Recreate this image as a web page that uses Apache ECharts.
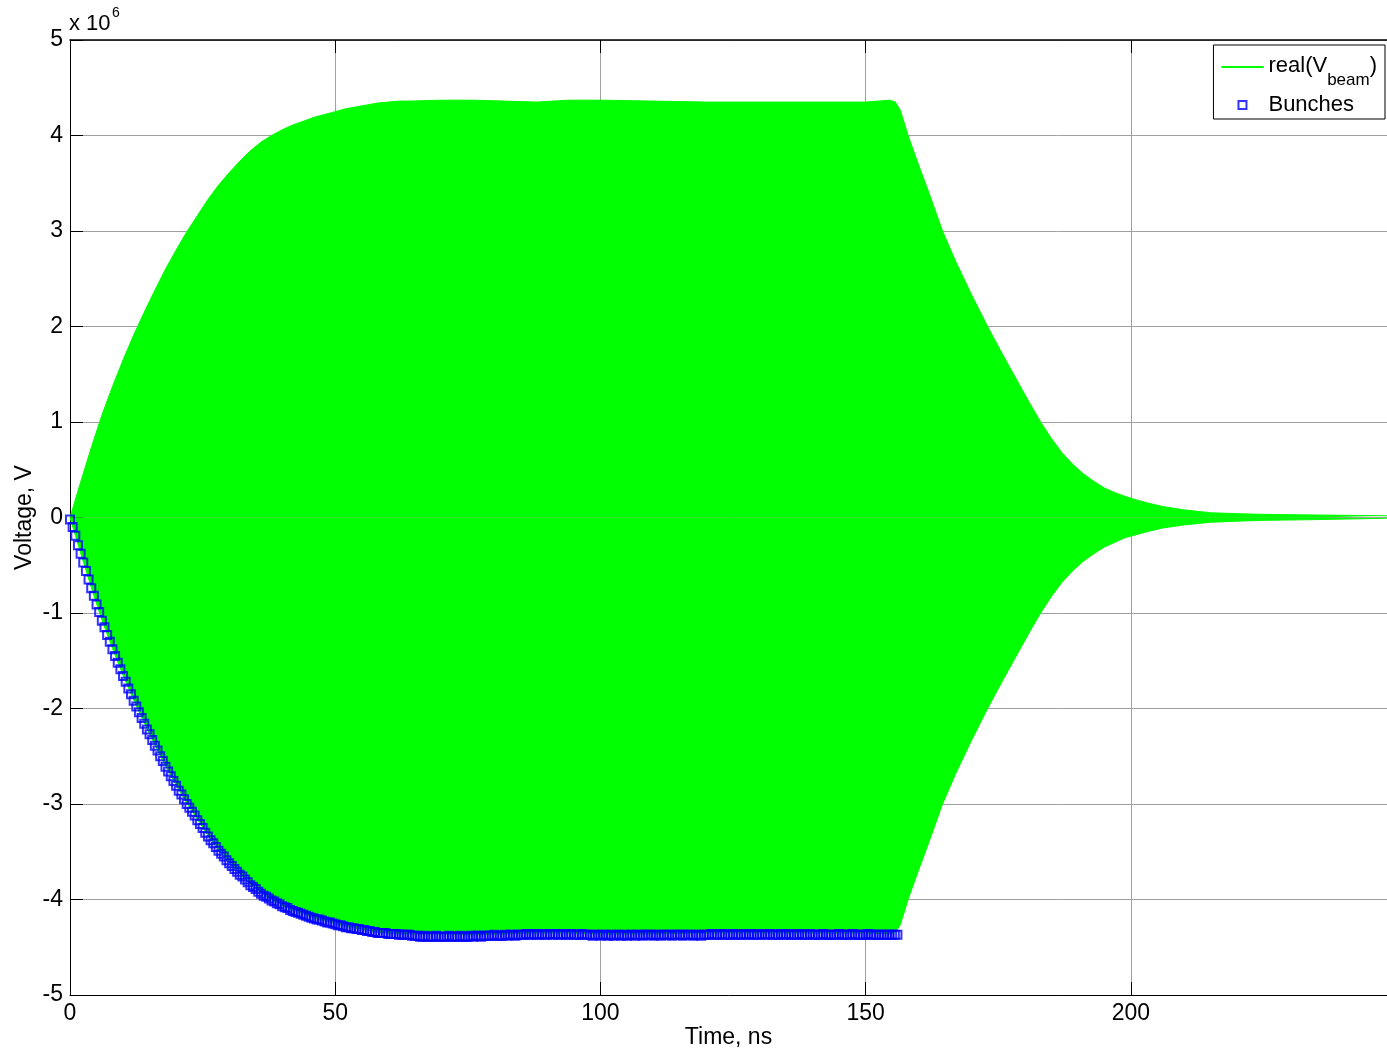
<!DOCTYPE html>
<html><head><meta charset="utf-8">
<script src="https://cdn.jsdelivr.net/npm/echarts@6/dist/echarts.min.js"></script>
<style>html,body{margin:0;padding:0;background:#fff;overflow:hidden}#chart{width:1387px;height:1050px}</style>
</head><body><div id="chart"></div>
<script>
// Voltage values are in units of 10^6 V (axis multiplier "x 10^6")
const xTickLabels = [0, 50, 100, 150, 200];
const yTickLabels = [-5, -4, -3, -2, -1, 0, 1, 2, 3, 4, 5];

// envelope of the fast-oscillating real(V_beam) trace
const envTime = [0,2,4,6,8,10,12,14,16,18,20,22,24,26,28,30,32,34,36,38,40,42,44,46,48,50,52,54,56,58,60,62,64,
  70,76,82,88,94,100,110,120,130,140,150,
  154.6,155.6,156.5,157.3,158,
  160,162,164.5,167,170,173,176,179,181,183,185,187,189,191,193,195,197,199,201,203,206,210,215,220,225,235,248.3];
const envUpper = [0,0.37,0.73,1.07,1.37,1.65,1.91,2.15,2.38,2.60,2.80,2.99,3.16,3.33,3.48,3.61,3.73,3.84,3.93,4.00,4.06,4.11,4.15,4.19,4.22,4.25,4.28,4.30,4.32,4.34,4.35,4.36,4.36,
  4.37,4.37,4.36,4.35,4.37,4.37,4.36,4.35,4.35,4.35,4.35,
  4.37,4.35,4.27,4.13,4.00,
  3.69,3.39,3.00,2.68,2.33,2.00,1.69,1.39,1.19,1.00,0.83,0.68,0.56,0.46,0.38,0.31,0.26,0.22,0.185,0.155,0.115,0.08,0.05,0.04,0.033,0.026,0.018];
const envLower = [0,-0.37,-0.73,-1.07,-1.37,-1.65,-1.91,-2.15,-2.38,-2.60,-2.80,-2.99,-3.16,-3.33,-3.48,-3.61,-3.73,-3.84,-3.93,-4.00,-4.06,-4.11,-4.15,-4.19,-4.22,-4.25,-4.28,-4.30,-4.32,-4.34,-4.35,-4.36,-4.36,
  -4.36,-4.37,-4.36,-4.35,-4.35,-4.36,-4.36,-4.35,-4.35,-4.35,-4.35,
  -4.36,-4.34,-4.27,-4.13,-4.00,
  -3.69,-3.39,-3.00,-2.68,-2.33,-2.00,-1.69,-1.39,-1.19,-1.00,-0.83,-0.68,-0.56,-0.46,-0.38,-0.31,-0.26,-0.21,-0.18,-0.15,-0.11,-0.078,-0.05,-0.038,-0.03,-0.022,-0.008];

// bunch samples, one every 0.5 ns from t = 0
const bunchStep = 0.5;
const bunchVolt = [
  -0.02,-0.10,-0.19,-0.29,-0.38,-0.47,-0.56,-0.65,-0.74,-0.82,-0.91,-0.99,-1.08,-1.15,-1.23,-1.30,-1.38,-1.45,-1.52,-1.59,
  -1.66,-1.72,-1.79,-1.85,-1.92,-1.98,-2.04,-2.10,-2.16,-2.22,-2.27,-2.33,-2.39,-2.44,-2.50,-2.55,-2.61,-2.66,-2.71,-2.76,
  -2.81,-2.86,-2.90,-2.95,-3.00,-3.04,-3.08,-3.12,-3.17,-3.21,-3.25,-3.30,-3.34,-3.38,-3.41,-3.45,-3.49,-3.52,-3.55,-3.59,
  -3.62,-3.65,-3.68,-3.71,-3.74,-3.76,-3.79,-3.82,-3.85,-3.87,-3.89,-3.92,-3.94,-3.96,-3.97,-3.99,-4.01,-4.02,-4.04,-4.05,
  -4.07,-4.08,-4.09,-4.11,-4.12,-4.13,-4.14,-4.15,-4.16,-4.17,-4.18,-4.19,-4.20,-4.21,-4.21,-4.22,-4.23,-4.24,-4.24,-4.25,
  -4.26,-4.27,-4.27,-4.28,-4.29,-4.29,-4.30,-4.30,-4.31,-4.31,-4.32,-4.32,-4.33,-4.33,-4.34,-4.34,-4.35,-4.35,-4.35,-4.35,
  -4.36,-4.36,-4.36,-4.36,-4.37,-4.37,-4.37,-4.37,-4.37,
  -4.38,-4.38,-4.38,-4.39,-4.39,-4.38,-4.39,-4.39,-4.39,-4.38,-4.39,-4.39,-4.39,-4.39,-4.38,-4.39,-4.39,-4.39,-4.38,-4.39,
  -4.39,-4.39,-4.38,-4.39,-4.38,-4.38,-4.39,-4.38,-4.38,-4.38,-4.38,-4.37,-4.38,-4.38,-4.38,-4.37,-4.38,-4.37,-4.37,-4.38,
  -4.37,-4.37,-4.37,-4.36,-4.37,-4.37,-4.36,-4.37,-4.37,-4.36,-4.37,-4.37,-4.36,-4.37,-4.36,-4.37,-4.37,-4.36,-4.37,-4.37,
  -4.36,-4.37,-4.37,-4.37,-4.36,-4.37,-4.37,-4.37,-4.38,-4.37,-4.37,-4.38,-4.37,-4.37,-4.38,-4.37,-4.38,-4.37,-4.37,-4.38,
  -4.37,-4.38,-4.37,-4.37,-4.38,-4.37,-4.37,-4.38,-4.37,-4.37,-4.37,-4.38,-4.37,-4.37,-4.38,-4.37,-4.37,-4.37,-4.38,-4.37,
  -4.37,-4.37,-4.38,-4.37,-4.37,-4.37,-4.38,-4.37,-4.37,-4.38,-4.37,-4.37,-4.37,-4.36,-4.37,-4.37,-4.37,-4.36,-4.37,-4.37,
  -4.37,-4.36,-4.37,-4.37,-4.37,-4.36,-4.37,-4.37,-4.36,-4.37,-4.37,-4.37,-4.36,-4.37,-4.37,-4.36,-4.37,-4.37,-4.37,-4.36,
  -4.37,-4.37,-4.36,-4.37,-4.37,-4.37,-4.36,-4.37,-4.37,-4.37,-4.36,-4.37,-4.37,-4.37,-4.37,-4.36,-4.37,-4.37,-4.37,-4.37,
  -4.37,-4.36,-4.37,-4.37,-4.37,-4.37,-4.36,-4.37,-4.37,-4.37,-4.37,-4.37,-4.36,-4.37,-4.37,-4.37,-4.37,-4.37,-4.37,-4.37,
  -4.37,-4.37,-4.37,-4.37
];

const FONT = '"Liberation Sans", Arial, sans-serif';
const GREEN = '#00ff00', BLUE = '#0000ff';
const X_MAX = 248.3;

const chart = echarts.init(document.getElementById('chart'), null, {renderer: 'canvas', width: 1387, height: 1050});
const upperData = envTime.map((t, i) => [t, envUpper[i]]);
const lowerData = envTime.map((t, i) => [t, envLower[i]]);
const bunchData = bunchVolt.map((v, i) => [i * bunchStep, v]);

const greenSeries = (data) => ({
  name: 'real(Vbeam)', type: 'line', data: data, symbol: 'none', silent: true,
  lineStyle: {color: GREEN, width: 1}, itemStyle: {color: GREEN},
  areaStyle: {color: GREEN, opacity: 1, origin: 0}, z: 2
});

chart.setOption({
  animation: false,
  textStyle: {fontFamily: FONT},
  grid: {left: 70, top: 40, width: 1317, height: 955, containLabel: false, outerBoundsMode: 'none'},
  xAxis: [{
    type: 'value', min: 0, max: X_MAX, interval: 50,
    axisLine: {show: true, onZero: false, lineStyle: {color: '#000', width: 1}},
    axisTick: {show: true, inside: true, length: 13, lineStyle: {color: '#000'}},
    axisLabel: {fontSize: 23, color: '#000', margin: 7, fontFamily: FONT, showMaxLabel: false,
      formatter: v => xTickLabels.includes(v) ? String(v) : ''},
    splitLine: {show: true, lineStyle: {color: '#a0a0a0', width: 1}},
    name: 'Time, ns', nameLocation: 'middle', nameGap: 31, nameMoveOverlap: false,
    nameTextStyle: {fontSize: 23, color: '#000', fontFamily: FONT}
  }, {
    type: 'value', position: 'top', min: 0, max: X_MAX, interval: 50,
    axisLine: {show: true, onZero: false, lineStyle: {color: '#000', width: 1.5}},
    axisTick: {show: true, inside: true, length: 13, lineStyle: {color: '#000'}},
    axisLabel: {show: false}, splitLine: {show: false}
  }],
  yAxis: {
    type: 'value', min: -5, max: 5, interval: 1,
    axisLine: {show: true, onZero: false, lineStyle: {color: '#000', width: 1}},
    axisTick: {show: true, inside: true, length: 13, lineStyle: {color: '#000'}},
    axisLabel: {fontSize: 23, color: '#000', margin: 7, fontFamily: FONT,
      formatter: v => yTickLabels.includes(v) ? String(v) : ''},
    splitLine: {show: true, lineStyle: {color: '#a0a0a0', width: 1}},
    name: 'Voltage, V', nameLocation: 'middle', nameGap: 34, nameMoveOverlap: false,
    nameTextStyle: {fontSize: 23, color: '#000', fontFamily: FONT}
  },
  legend: {
    right: 2, top: 45, orient: 'vertical', align: 'left',
    itemWidth: 42, itemHeight: 8, itemGap: 5, padding: [4, 8, 3, 8],
    borderColor: '#000', borderWidth: 1, backgroundColor: '#fff', selectedMode: false,
    textStyle: {fontSize: 22, color: '#000', fontFamily: FONT,
      rich: {
        a: {fontSize: 22, lineHeight: 36, padding: [6, 0, 0, 0], verticalAlign: 'top', fontFamily: FONT, color: '#000'},
        s: {fontSize: 17, lineHeight: 16, padding: [23, 0, 0, 0], verticalAlign: 'top', fontFamily: FONT, color: '#000'},
        b: {fontSize: 22, lineHeight: 24, fontFamily: FONT, color: '#000'}
      }},
    formatter: name => name === 'real(Vbeam)' ? '{a|real(V}{s|beam}{a|)}' : '{b|' + name + '}',
    data: [
      {name: 'real(Vbeam)', icon: 'path://M0,0H42V2H0Z', itemStyle: {color: GREEN, borderWidth: 0}},
      {name: 'Bunches', icon: 'path://M0,0H7V7H0Z', itemStyle: {color: 'rgba(0,0,0,0)', borderColor: BLUE, borderWidth: 2}}
    ]
  },
  graphic: [
    {type: 'text', left: 69, top: 13, style: {text: 'x 10', fontSize: 22, fontFamily: FONT, fill: '#000'}},
    {type: 'text', left: 112, top: 6, style: {text: '6', fontSize: 14, fontFamily: FONT, fill: '#000'}}
  ],
  series: [
    greenSeries(upperData),
    greenSeries(lowerData),
    {
      name: 'Bunches', type: 'scatter', data: bunchData, symbol: 'rect', symbolSize: 8,
      itemStyle: {color: 'rgba(0,0,0,0)', borderColor: BLUE, borderWidth: 2}, z: 3, silent: true
    }
  ]
});
</script>
</body></html>
